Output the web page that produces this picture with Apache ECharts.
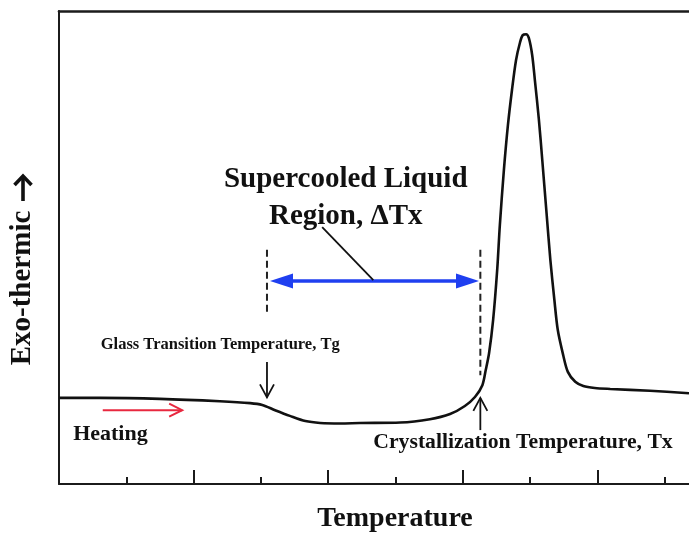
<!DOCTYPE html>
<html>
<head>
<meta charset="utf-8">
<script src="https://cdn.jsdelivr.net/npm/echarts@6/dist/echarts.min.js"></script>
<style>
  html, body { margin: 0; padding: 0; background: #fff; }
  #chart { width: 689px; height: 536px; }
</style>
</head>
<body>
<div id="chart"></div>
<script>
// DSC heating trace (arbitrary units)
const temperature = [
  0, 0.61, 1.50, 2.39, 2.84, 3.02, 3.21, 3.43, 3.66, 3.88, 4.18, 4.47, 5.07, 5.51,
  5.81, 6.03, 6.18, 6.29, 6.34, 6.39, 6.45, 6.51, 6.55, 6.61, 6.67, 6.73, 6.79,
  6.85, 6.89, 6.94, 6.98, 7.03, 7.07, 7.13, 7.18, 7.24, 7.30, 7.36, 7.41, 7.49,
  7.56, 7.67, 7.79, 7.96, 8.19, 8.78, 9.36
];
const heatFlow = [
  18.2, 18.2, 18.0, 17.5, 17.1, 16.7, 15.6, 14.4, 13.3, 12.9, 12.8, 12.9, 13.0, 13.7,
  14.8, 16.5, 18.4, 20.9, 24.1, 27.7, 34.7, 45.2, 54.8, 66.4, 75.9, 83.3, 89.6,
  93.4, 94.9, 95.1, 94.3, 90.7, 85.4, 77.0, 68.5, 57.9, 47.4, 38.9, 32.6, 27.3,
  23.7, 21.6, 20.7, 20.3, 20.1, 19.7, 19.2
];

// Axis extent and tick positions
const xRange = [0, 9.36];
const yRange = [0, 100];
const minorTicks = [1, 3, 5, 7, 9];
const majorTicks = [2, 4, 6, 8];

// Annotation anchors in data units
const tgLine = [3.09, 49.5, 36.4];      // x, top, bottom of dashed marker at Tg
const txLine = [6.26, 49.5, 23.0];      // x, top, bottom of dashed marker at Tx
const deltaSpan = [3.135, 6.24, 42.9];  // from, to, level of the ΔTx arrow
const leader = [3.91, 54.3, 4.67, 43.1];
const tgArrow = [3.09, 25.8, 18.3];     // x, tail, tip
const txArrow = [6.26, 11.4, 18.2];     // x, tail, tip
const heatArrow = [0.65, 1.83, 15.6];   // from, to, level
const regionLabel = [4.26, 60.5];
const tgLabel = [0.62, 29.4];
const heatLabel = [0.21, 10.6];
const txLabel = [4.67, 8.7];

const chart = echarts.init(document.getElementById('chart'), null, { renderer: 'canvas' });

const axisColor = '#1b1b1b';
const serif = '"Liberation Serif", "Times New Roman", serif';

chart.setOption({
  animation: false,
  backgroundColor: '#ffffff',
  grid: { left: 59, top: 11, right: 0, bottom: 52, show: false },
  xAxis: [
    {
      type: 'value', min: xRange[0], max: xRange[1],
      axisLine: { show: true, lineStyle: { color: axisColor, width: 2 } },
      axisTick: { show: true, inside: true, length: 7, customValues: minorTicks,
        lineStyle: { color: axisColor, width: 2 } },
      axisLabel: { show: false }, splitLine: { show: false }
    },
    {
      type: 'value', min: xRange[0], max: xRange[1], position: 'bottom',
      axisLine: { show: false },
      axisTick: { show: true, inside: true, length: 14, customValues: majorTicks,
        lineStyle: { color: axisColor, width: 2 } },
      axisLabel: { show: false }, splitLine: { show: false }
    },
    {
      // top frame line
      type: 'value', min: xRange[0], max: xRange[1], position: 'top',
      axisLine: { show: true, lineStyle: { color: axisColor, width: 2.6 } },
      axisTick: { show: false }, axisLabel: { show: false }, splitLine: { show: false }
    }
  ],
  yAxis: {
    type: 'value', min: yRange[0], max: yRange[1],
    axisLine: { show: true, lineStyle: { color: axisColor, width: 2 } },
    axisTick: { show: false }, axisLabel: { show: false }, splitLine: { show: false }
  },
  series: [{
    type: 'line',
    xAxisIndex: 0,
    data: temperature.map((t, i) => [t, heatFlow[i]]),
    showSymbol: false,
    smooth: 0.3,
    lineStyle: { color: '#111', width: 2.6 }
  }]
});

const P = (x, y) => chart.convertToPixel({ xAxisIndex: 0, yAxisIndex: 0 }, [x, y]);

function seg(a, b, color, width, dash) {
  return {
    type: 'line', silent: true,
    shape: { x1: a[0], y1: a[1], x2: b[0], y2: b[1] },
    style: { stroke: color, lineWidth: width, lineDash: dash || null, lineCap: 'butt' }
  };
}
function chevron(tip, dir, len, half, color, width) {
  // open arrow head: dir is a unit vector pointing towards the tip
  const bx = tip[0] - dir[0] * len, by = tip[1] - dir[1] * len;
  const nx = -dir[1], ny = dir[0];
  return {
    type: 'polyline', silent: true,
    shape: { points: [[bx + nx * half, by + ny * half], tip, [bx - nx * half, by - ny * half]] },
    style: { stroke: color, lineWidth: width, fill: null, lineJoin: 'miter' }
  };
}
function label(pos, text, size, align, lineHeight) {
  return {
    type: 'text', silent: true, x: pos[0], y: pos[1],
    style: {
      text: text, font: 'bold ' + size + 'px ' + serif, fill: '#111',
      align: align, verticalAlign: 'middle', lineHeight: lineHeight || null
    }
  };
}

const g = [];
// dashed markers at Tg and Tx
g.push(seg(P(tgLine[0], tgLine[1]), P(tgLine[0], tgLine[2]), '#222', 2, [7, 4]));
g.push(seg(P(txLine[0], txLine[1]), P(txLine[0], txLine[2]), '#222', 2, [7, 4]));

// ΔTx double arrow
const dl = P(deltaSpan[0], deltaSpan[2]);
const dr = P(deltaSpan[1], deltaSpan[2]);
const blue = '#1f3ff0';
g.push(seg([dl[0] + 18, dl[1]], [dr[0] - 18, dr[1]], blue, 3.5));
g.push({ type: 'polygon', silent: true,
  shape: { points: [dl, [dl[0] + 23, dl[1] - 7.5], [dl[0] + 23, dl[1] + 7.5]] }, style: { fill: blue } });
g.push({ type: 'polygon', silent: true,
  shape: { points: [dr, [dr[0] - 23, dr[1] - 7.5], [dr[0] - 23, dr[1] + 7.5]] }, style: { fill: blue } });

// leader from the region label to the arrow
g.push(seg(P(leader[0], leader[1]), P(leader[2], leader[3]), '#111', 1.8));

// Tg arrow (pointing down)
const tgTail = P(tgArrow[0], tgArrow[1]), tgTip = P(tgArrow[0], tgArrow[2]);
g.push(seg(tgTail, tgTip, '#111', 1.8));
g.push(chevron(tgTip, [0, 1], 13, 7, '#111', 1.8));

// Tx arrow (pointing up)
const txTail = P(txArrow[0], txArrow[1]), txTip = P(txArrow[0], txArrow[2]);
g.push(seg(txTail, txTip, '#111', 1.8));
g.push(chevron(txTip, [0, -1], 13, 7, '#111', 1.8));

// heating direction arrow
const hA = P(heatArrow[0], heatArrow[2]), hB = P(heatArrow[1], heatArrow[2]);
g.push(seg(hA, hB, '#e8283f', 2));
g.push(chevron(hB, [1, 0], 13, 6.5, '#e8283f', 2));

// text
g.push(label(P(regionLabel[0], regionLabel[1]), 'Supercooled Liquid\nRegion, ΔTx', 29, 'center', 37));
g.push(label(P(tgLabel[0], tgLabel[1]), 'Glass Transition Temperature, Tg', 16.5, 'left'));
g.push(label(P(heatLabel[0], heatLabel[1]), 'Heating', 22, 'left'));
g.push(label(P(txLabel[0], txLabel[1]), 'Crystallization Temperature, Tx', 21.7, 'left'));

// axis titles
g.push(label([395, 519], 'Temperature', 28, 'center'));
g.push({
  type: 'text', silent: true, x: 23, y: 288, rotation: Math.PI / 2,
  style: { text: 'Exo-thermic', font: 'bold 29px ' + serif, fill: '#111',
    align: 'center', verticalAlign: 'middle' }
});
// bold upward arrow after the y title
g.push(seg([23, 201], [23, 177], '#111', 3.6));
g.push(chevron([23, 176], [0, -1], 9, 8.5, '#111', 3.6));

chart.setOption({ graphic: g });
</script>
</body>
</html>
